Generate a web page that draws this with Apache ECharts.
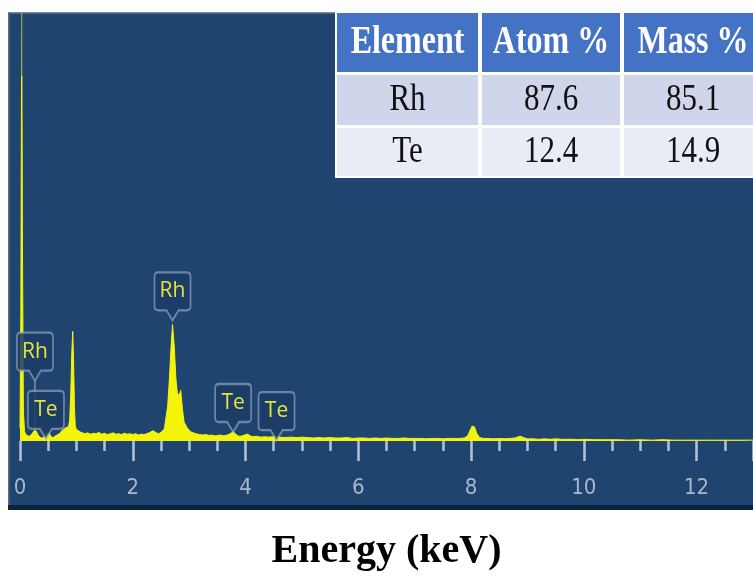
<!DOCTYPE html>
<html>
<head>
<meta charset="utf-8">
<script src="https://cdn.jsdelivr.net/npm/echarts@6/dist/echarts.min.js"></script>
<style>html,body{margin:0;padding:0;background:#fff}#c{width:753px;height:577px}</style>
</head>
<body>
<div id="c"></div>
<script>
// ---- Data (energy keV, counts in arbitrary units) ----
const spectrumLow = [
  [0.00,30],[0.015,300],[0.03,1000],[0.045,420],[0.06,70],[0.08,22],[0.11,14],[0.15,11],[0.19,13],
  [0.22,18],[0.25,24],[0.27,26],[0.29,23],[0.32,14],[0.36,8],[0.40,7],[0.44,11],[0.47,17],[0.50,21],
  [0.52,18],[0.55,10],[0.59,8],[0.63,12],[0.67,15],[0.71,18],[0.74,24],[0.77,28],[0.80,30],[0.83,31],
  [0.86,34],[0.88,48],[0.90,110],[0.92,210],[0.935,256],[0.95,190],[0.965,80],[0.98,35],[1.00,27],
  [1.03,24],[1.07,21],[1.11,19]
];
const spectrumMid = [
  [1.15,17],[1.20,19],[1.25,16],[1.30,18],[1.35,17],[1.40,20],[1.45,16],[1.50,18],[1.55,15],[1.60,17],
  [1.65,19],[1.70,16],[1.75,17],[1.80,15],[1.85,18],[1.90,16],[1.95,17],[2.00,15],[2.05,17],[2.10,14],
  [2.15,16],[2.20,15],[2.25,17],[2.30,20],[2.36,24],[2.39,27],[2.42,19],[2.46,17],[2.50,20],[2.53,24]
];
const spectrumRhL = [
  [2.56,28],[2.59,32],[2.62,83],[2.65,145],[2.68,222],[2.705,272],[2.735,222],[2.765,145],[2.79,113],
  [2.82,105],[2.85,118],[2.88,76],[2.91,44],[2.97,30],[3.02,22],[3.07,19],[3.12,17],[3.18,15]
];
const spectrumTe = [
  [3.25,14],[3.30,15],[3.35,13],[3.40,14],[3.45,12],[3.50,13],[3.55,14],[3.60,12],[3.65,13],[3.70,15],
  [3.74,18],[3.78,22],[3.82,17],[3.86,12],[3.90,11],[3.95,12],[4.00,15],[4.04,16],[4.08,12],[4.13,10],
  [4.20,11],[4.27,9],[4.34,10],[4.41,9],[4.48,10],[4.55,11],[4.62,9],[4.70,8],[4.80,9],[4.90,8],[5.00,9]
];
const spectrumHigh = [
  [5.1,8],[5.2,7],[5.3,8],[5.4,7],[5.5,8],[5.6,7],[5.7,7],[5.8,8],[5.9,6],[6.0,7],[6.1,7],[6.2,6],
  [6.3,7],[6.4,6],[6.5,7],[6.6,6],[6.7,6],[6.8,7],[6.9,6],[7.0,6],[7.1,6],[7.2,5],[7.3,6],[7.4,6],
  [7.5,5],[7.6,6],[7.7,6],[7.8,6],[7.88,7],[7.94,12],[7.98,24],[8.02,35],[8.06,33],[8.10,18],[8.15,8],
  [8.22,6],[8.3,6],[8.4,5],[8.5,6],[8.6,5],[8.7,6],[8.78,7],[8.84,10],[8.88,11],[8.93,8],[9.0,5],
  [9.1,5],[9.2,4],[9.3,5],[9.4,4],[9.5,5],[9.6,4],[9.7,4],[9.8,4],[9.9,3],[10.0,4],[10.2,3],[10.4,3],
  [10.6,3],[10.8,2],[11.0,3],[11.2,2],[11.4,3],[11.6,2],[11.8,2],[12.0,2],[12.2,2],[12.4,2],[12.6,2],
  [12.8,2],[13.0,2]
];
// Peak callouts: element name, energy of pointer tip, count level of pointer tip
const peakLabelNames   = ['Rh', 'Te', 'Rh', 'Te', 'Te'];
const peakLabelEnergy  = [0.265, 0.46, 2.705, 3.78, 4.55];
const peakLabelLevel   = [141, 5, 282, 21, 2];
// guide line from the first Rh callout down to its peak
const rhGuide = [[0.265,141],[0.265,26]];
// axis
const xTickInterval = 2;
const xMin = 0, xMax = 13;
// table
const tableHeader = ['Element', 'Atom %', 'Mass %'];
const tableRows = [
  ['Rh', '87.6', '85.1'],
  ['Te', '12.4', '14.9']
];

const spectrum = [].concat(spectrumLow, spectrumMid, spectrumRhL, spectrumTe, spectrumHigh);

// ---- Table graphic ----
const colX = [[337,478],[482,620],[624,772]];
const rowY = [[13,72],[75,125],[128,176]];
const rowFill = ['#4472c4', '#cfd5ea', '#e9ebf5'];
const tableEls = [{type:'rect', shape:{x:335,y:11,width:430,height:167}, style:{fill:'#ffffff'}, z:100}];
const allRows = [tableHeader].concat(tableRows);
allRows.forEach((row, r) => {
  row.forEach((txt, c) => {
    tableEls.push({type:'rect', shape:{x:colX[c][0], y:rowY[r][0], width:colX[c][1]-colX[c][0], height:rowY[r][1]-rowY[r][0]},
      style:{fill:rowFill[r]}, z:101});
    const cx = (colX[c][0]+colX[c][1])/2 - (c===2 ? 5 : 0);
    const cy = (rowY[r][0]+rowY[r][1])/2;
    tableEls.push({type:'text', x:cx, y:cy, scaleY:1.25, z:102,
      style:{text:txt, fill: r===0 ? '#ffffff' : '#111111',
        font: (r===0 ? 'bold 32px' : '31px') + ' "Liberation Serif", "Times New Roman", serif',
        align:'center', verticalAlign:'middle'}});
  });
});

const calloutPath = 'path://M4,0 H32 Q36,0 36,4 V34 Q36,38 32,38 H24 L18,48 L12,38 H4 Q0,38 0,34 V4 Q0,0 4,0 Z';

const yellowGrad = new echarts.graphic.LinearGradient(0,0,0,1,[
  {offset:0, color:'rgba(190,205,70,0.55)'},
  {offset:0.15, color:'rgba(190,205,70,0.55)'},
  {offset:0.152, color:'#f4f40a'},
  {offset:1, color:'#f4f40a'}
]);

const chart = echarts.init(document.getElementById('c'), null, {renderer:'canvas'});
chart.setOption({
  animation:false,
  backgroundColor:'#ffffff',
  graphic:[
    {type:'rect', shape:{x:8,y:12,width:760,height:498}, style:{fill:'#1f4470'}, z:-10},
    {type:'rect', shape:{x:8,y:12,width:760,height:1.5}, style:{fill:'#7d8897'}, z:-9},
    {type:'rect', shape:{x:8,y:12,width:1.5,height:498}, style:{fill:'#5a6b80'}, z:-9},
    {type:'rect', shape:{x:8,y:505,width:760,height:5}, style:{fill:'#0f243b'}, z:-9}
  ].concat(tableEls),
  grid:{left:20, width:737, top:13, bottom:131},
  xAxis:{
    type:'value', min:xMin, max:xMax, interval:xTickInterval, offset:7,
    axisLine:{show:false},
    axisTick:{show:true, length:20, lineStyle:{color:'#b7c2d2', width:2.5}},
    minorTick:{show:true, splitNumber:4, length:10, lineStyle:{color:'#b7c2d2', width:2.5}},
    splitLine:{show:false}, minorSplitLine:{show:false},
    axisLabel:{color:'#aab6c8', fontSize:22, margin:29, showMaxLabel:false,
      fontFamily:'"Liberation Sans Narrow", "DejaVu Sans Condensed", sans-serif'},
    name:'Energy (keV)', nameLocation:'middle', nameGap:84,
    nameTextStyle:{color:'#000', fontSize:40, fontWeight:'bold', fontFamily:'"Liberation Serif", "Times New Roman", serif'}
  },
  yAxis:{type:'value', min:0, max:1000, show:false},
  series:[
    {
      type:'line', data:spectrum, symbol:'none', z:3,
      lineStyle:{color:yellowGrad, width:1},
      areaStyle:{color:yellowGrad, opacity:1}
    },
    {
      type:'line', data:rhGuide, symbol:'none', z:4,
      lineStyle:{color:'rgba(170,190,205,0.6)', width:1.5}
    },
    {
      type:'scatter', z:10,
      data: peakLabelNames.map((n,i)=>({name:n, value:[peakLabelEnergy[i], peakLabelLevel[i]]})),
      symbol:calloutPath, symbolSize:[36,48], symbolOffset:[0,'-50%'],
      itemStyle:{color:'rgba(28,60,102,0.85)', borderColor:'rgba(160,180,200,0.6)', borderWidth:2, opacity:1},
      label:{show:true, position:'inside', offset:[0,-5], formatter:'{b}', color:'#e4e43c', fontSize:21,
        fontFamily:'"Open Sans", "Noto Sans", sans-serif'},
      emphasis:{disabled:true}
    }
  ]
});
</script>
</body>
</html>
